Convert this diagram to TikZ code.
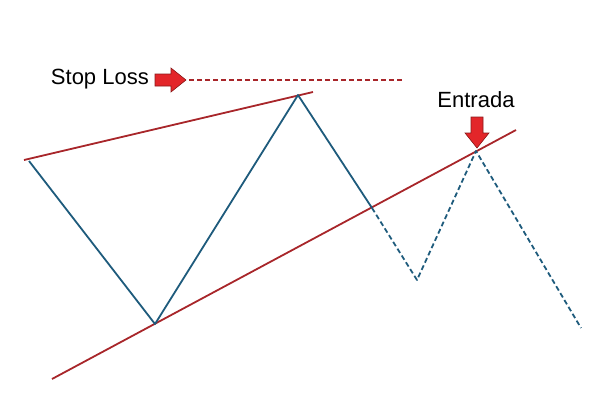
\documentclass[tikz,border=0pt]{standalone}
\usepackage{fontspec}
\setmainfont{Liberation Sans}
\definecolor{trend}{HTML}{A8262A}
\definecolor{wave}{HTML}{1E5B7C}
\definecolor{arrowfill}{HTML}{E3262A}
\definecolor{arrowline}{HTML}{8A1A1A}
\begin{document}
\begin{tikzpicture}[x=1pt,y=-1pt,
  trendline/.style={draw=trend,line width=1.8pt},
  waveline/.style={draw=wave,line width=1.8pt,line join=round},
  wavedash/.style={waveline,dash pattern=on 5pt off 3pt},
  stopline/.style={draw=trend,line width=1.4pt,dash pattern=on 5pt off 3pt},
  bigarrow/.style={fill=arrowfill,draw=arrowline,line width=0.6pt,line join=miter},
  lbl/.style={font=\fontsize{22}{26}\selectfont,inner sep=0pt,text=black}]
\useasboundingbox (0,0) rectangle (600,400);
% trend lines
\coordinate (u1) at (24,160);
\coordinate (u2) at (313,92);
\coordinate (l1) at (52,379);
\coordinate (l2) at (516,130);
\draw[trendline] (u1) -- (u2);
\draw[trendline] (l1) -- (l2);
% wave points
\coordinate (p0) at (29,161);
\coordinate (p1) at (155,324);
\coordinate (p2) at (298,95);
\coordinate (p3) at (372,208);
\coordinate (p4) at (417,280);
\coordinate (p5) at (476,151);
\coordinate (p6) at (581,328);
\draw[waveline] (p0) -- (p1) -- (p2) -- (p3);
\draw[wavedash] (p3) -- (p4) -- (p5) -- (p6);
% stop loss
\coordinate (s1) at (189,80);
\coordinate (s2) at (403,80);
\draw[stopline] (s1) -- (s2);
\node[lbl,anchor=east] (stop) at (149,79) {Stop Loss};
\draw[bigarrow] (155,74) -- (171,74) -- (171,68) -- (186,80) -- (171,92) -- (171,86) -- (155,86) -- cycle;
% entrada
\node[lbl] (entrada) at (476,100) {Entrada};
\draw[bigarrow] (471,117) -- (483,117) -- (483,133) -- (489,133) -- (477,148) -- (465,133) -- (471,133) -- cycle;
\end{tikzpicture}
\end{document}
